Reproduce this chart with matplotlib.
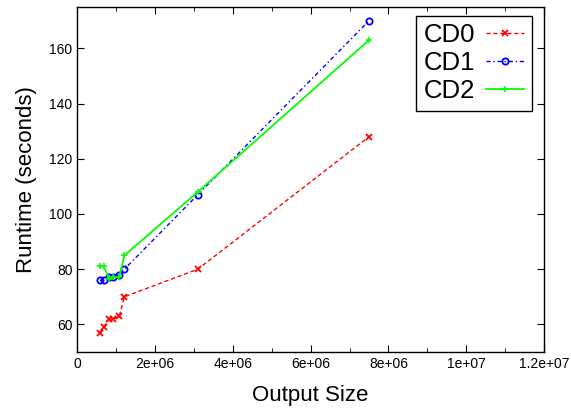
import matplotlib
matplotlib.use('Agg')
import matplotlib.pyplot as plt

plt.rcParams['font.family'] = ['Liberation Sans', 'DejaVu Sans']

# output size (shared by all three series)
sizes = [5.8e5, 6.8e5, 8.2e5, 9.3e5, 1.08e6, 1.21e6, 3.1e6, 7.5e6]
cd0 = [57, 59, 62, 62, 63, 70, 80, 128]
cd1 = [76, 76, 77, 77, 78, 80, 107, 170]
cd2 = [81, 81, 76.5, 77, 77, 85, 108, 163]

xticks = [0, 2e6, 4e6, 6e6, 8e6, 1e7, 1.2e7]
xlabels = ['0', '2e+06', '4e+06', '6e+06', '8e+06', '1e+07', '1.2e+07']
yticks = [60, 80, 100, 120, 140, 160]

fig = plt.figure(figsize=(5.71, 4.11), dpi=100)
ax = fig.add_axes([0.1354, 0.1436, 0.8173, 0.8394])

ax.plot(sizes, cd0, color='#ff0000', linestyle=(0, (3, 2)), linewidth=1,
        marker='x', markersize=4.5, markeredgewidth=1.3, label='CD0')
ax.plot(sizes, cd1, color='#0000ff', linestyle=(0, (3, 2, 1, 2)), linewidth=1,
        marker='o', markersize=4.5, markerfacecolor='none', markeredgewidth=1.3, label='CD1')
ax.plot(sizes, cd2, color='#00ff00', linestyle='-', linewidth=1.3,
        marker='+', markersize=5, markeredgewidth=1.2, label='CD2')

ax.set_xlim(0, 1.2e7)
ax.set_ylim(50, 175)
ax.set_xticks(xticks)
ax.set_xticklabels(xlabels)
ax.set_xticks([1e6, 3e6, 5e6, 7e6, 9e6, 1.1e7], minor=True)
ax.set_yticks(yticks)
ax.tick_params(which='both', direction='in', top=True, right=True, labelsize=10)
ax.tick_params(which='major', length=5)
ax.tick_params(which='minor', length=3)
for s in ax.spines.values():
    s.set_linewidth(1)

ax.set_xlabel('Output Size', fontsize=16, labelpad=10)
ax.set_ylabel('Runtime (seconds)', fontsize=16, labelpad=9)

leg = ax.legend(loc='upper right', bbox_to_anchor=(0.985, 0.99), fontsize=18.5,
                markerfirst=False, fancybox=False, framealpha=1, edgecolor='black',
                handlelength=1.5, handletextpad=0.4, borderpad=0.3, labelspacing=0.15,
                borderaxespad=0.2)
leg.get_frame().set_linewidth(1)

fig.savefig('out.png', dpi=100)
